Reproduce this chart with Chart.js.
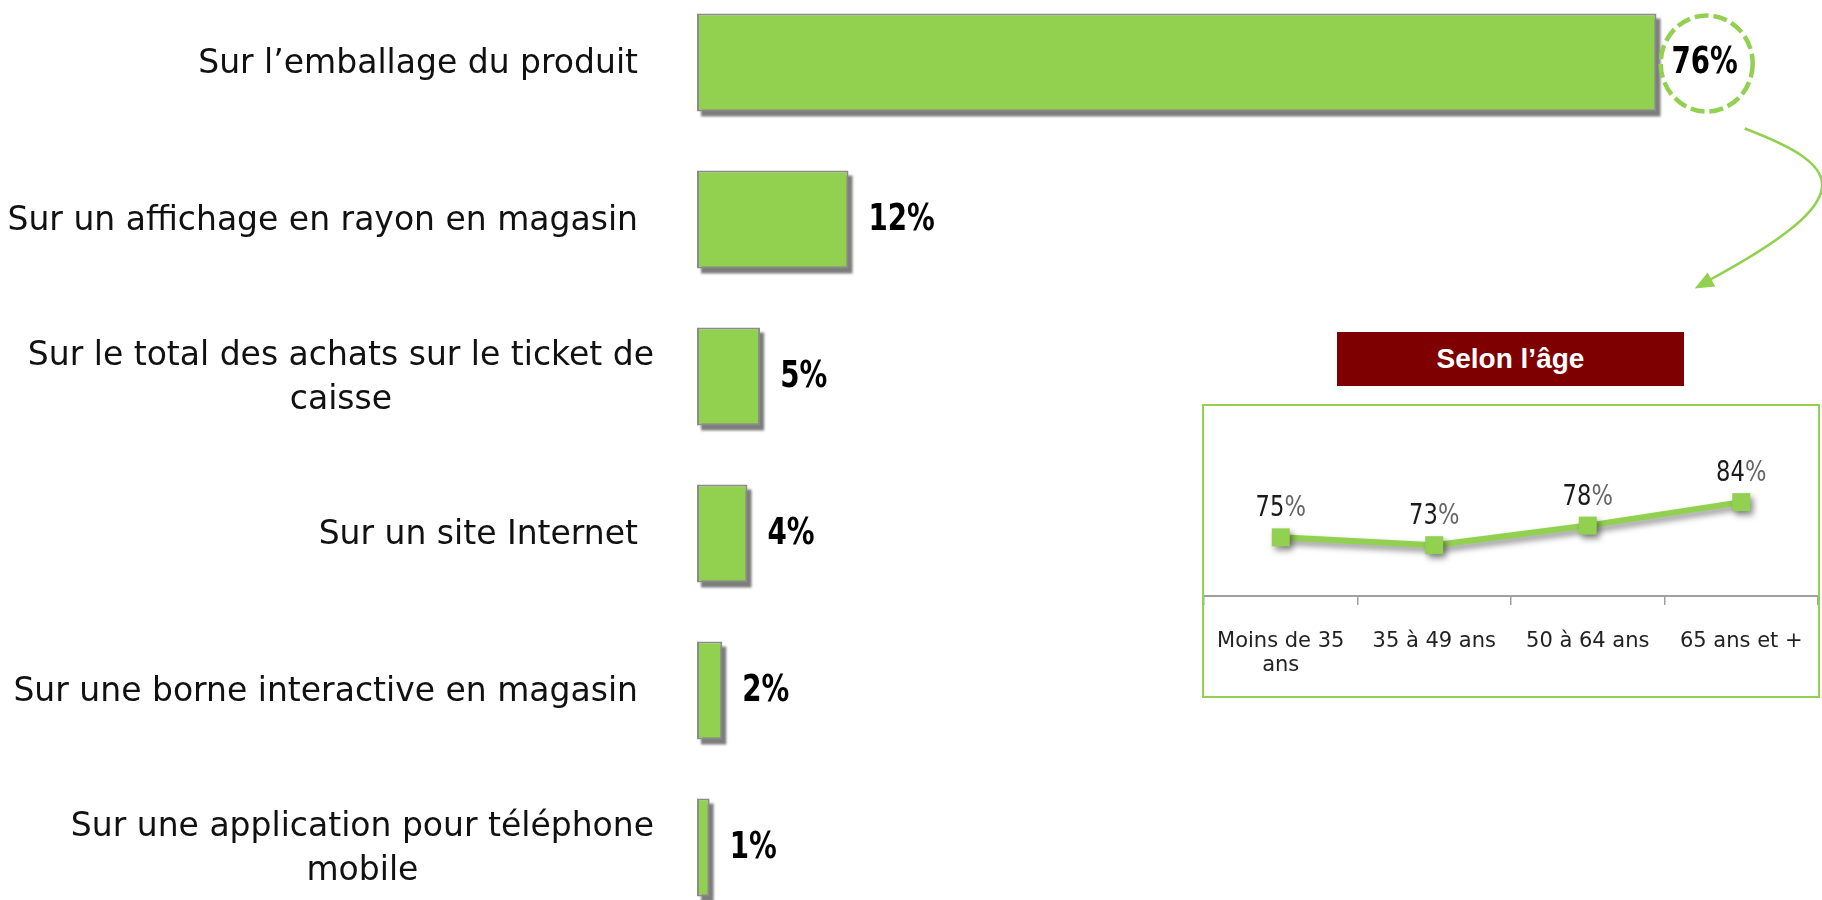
<!DOCTYPE html>
<html lang="fr">
<head>
<meta charset="utf-8">
<title>Où le consommateur lit l'information</title>
<script src="https://cdn.jsdelivr.net/npm/chart.js@4.4.1/dist/chart.umd.min.js"></script>
<style>
  html, body { margin: 0; padding: 0; background: #fff; overflow: hidden; }
  body { width: 1822px; height: 900px; position: relative; }
  #mainChart { position: absolute; left: 0; top: -16px; }
  #ageTitle {
    position: absolute; left: 1337px; top: 332px; width: 347px; height: 54px;
    background: #7f0000; color: #fff;
    font: bold 28px "Liberation Sans", Arial, sans-serif;
    display: flex; align-items: center; justify-content: center;
  }
  #ageBox { position: absolute; left: 1202px; top: 404px; width: 614px; height: 290px; border: 2px solid #92d050; }
</style>
</head>
<body>
<canvas id="mainChart" width="1822" height="942"></canvas>
<div id="ageTitle">Selon l’âge</div>
<div id="ageBox"><canvas id="ageChart" width="614" height="290"></canvas></div>

<script>
const Canaux = [
  ["Sur l’emballage du produit"],
  ["Sur un affichage en rayon en magasin"],
  ["Sur le total des achats sur le ticket de", "caisse"],
  ["Sur un site Internet"],
  ["Sur une borne interactive en magasin"],
  ["Sur une application pour téléphone", "mobile"]
];
const Parts = [76, 12, 5, 4, 2, 1];

const Ages = [["Moins de 35", "ans"], "35 à 49 ans", "50 à 64 ans", "65 ans et +"];
const PartsAge = [75, 73, 78, 84];

const GREEN = "#92D050";
const SANS = "'DejaVu Sans', sans-serif";

// no narrow font installed: squeeze the text horizontally
function narrowText(ctx, txt, x, y, sx) {
  ctx.save();
  ctx.translate(x, y);
  ctx.scale(sx, 1);
  ctx.fillText(txt, 0, 0);
  ctx.restore();
  return ctx.measureText(txt).width * sx;
}

// shadows, value labels, category labels, circled 76% + arrow
const barDecor = {
  id: "barDecor",
  beforeDatasetsDraw(chart) {
    const ctx = chart.ctx;
    ctx.save();
    ctx.fillStyle = "rgba(110,110,110,0.9)";
    ctx.filter = "blur(1.2px)";
    chart.getDatasetMeta(0).data.forEach((bar) => {
      const { x, y, base, height } = bar.getProps(["x", "y", "base", "height"], true);
      ctx.fillRect(base + 4, y - height / 2 + 5, x - base, height);
    });
    ctx.restore();
  },
  afterDatasetsDraw(chart) {
    const ctx = chart.ctx;
    const yScale = chart.scales.y;
    ctx.save();

    // labels on the left
    ctx.fillStyle = "#111";
    ctx.font = "33px " + SANS;
    ctx.textBaseline = "middle";
    Canaux.forEach((lines, i) => {
      const cy = yScale.getPixelForValue(i) + 2;
      const lh = 44;
      const top = cy - (lines.length - 1) * lh / 2;
      if (lines.length === 1) {
        ctx.textAlign = "right";
        ctx.fillText(lines[0], 638, cy);
      } else {
        const w = Math.max(...lines.map((l) => ctx.measureText(l).width));
        ctx.textAlign = "center";
        lines.forEach((l, k) => ctx.fillText(l, 654 - w / 2, top + k * lh));
      }
    });

    // values
    ctx.font = "bold 37px " + SANS;
    ctx.textAlign = "left";
    ctx.fillStyle = "#000";
    let circle = null;
    chart.getDatasetMeta(0).data.forEach((bar, i) => {
      const { x, y } = bar.getProps(["x", "y"], true);
      const lx = x + (i === 0 ? 15 : 20);
      const w = narrowText(ctx, Parts[i] + "%", lx, y + 1, 0.75);
      if (i === 0) circle = { cx: lx + w / 2, cy: y };
    });

    // dashed circle round the first value
    const { cx, cy } = circle;
    ctx.strokeStyle = GREEN;
    ctx.lineWidth = 4.5;
    ctx.setLineDash([14, 5]);
    ctx.beginPath();
    ctx.ellipse(cx + 2, cy + 1, 46, 48, 0, 0, Math.PI * 2);
    ctx.stroke();

    // curved arrow towards the age panel
    ctx.setLineDash([]);
    ctx.lineWidth = 2.5;
    const p0 = [cx + 40, cy + 66], p1 = [cx + 137, cy + 103], p2 = [cx + 162, cy + 133], p3 = [cx - 10, cy + 226];
    ctx.beginPath();
    ctx.moveTo(...p0);
    ctx.bezierCurveTo(...p1, ...p2, p3[0] + 12, p3[1] - 7);
    ctx.stroke();
    const ang = Math.atan2(p3[1] - p2[1], p3[0] - p2[0]);
    ctx.fillStyle = GREEN;
    ctx.beginPath();
    ctx.moveTo(p3[0], p3[1]);
    ctx.lineTo(p3[0] - 19 * Math.cos(ang) + 8 * Math.sin(ang), p3[1] - 19 * Math.sin(ang) - 8 * Math.cos(ang));
    ctx.lineTo(p3[0] - 19 * Math.cos(ang) - 8 * Math.sin(ang), p3[1] - 19 * Math.sin(ang) + 8 * Math.cos(ang));
    ctx.closePath();
    ctx.fill();
    ctx.restore();
  }
};

new Chart(document.getElementById("mainChart"), {
  type: "bar",
  data: {
    labels: Canaux,
    datasets: [{
      data: Parts,
      backgroundColor: GREEN,
      borderColor: "#8a8a8a",
      borderWidth: 2,
      borderSkipped: false,
      categoryPercentage: 0.8,
      barPercentage: 0.78
    }]
  },
  options: {
    indexAxis: "y",
    responsive: false,
    animation: false,
    events: [],
    layout: { padding: { left: 697, right: 115, top: 0, bottom: 0 } },
    scales: {
      x: { display: false, min: 0, max: 80 },
      y: { display: false }
    },
    plugins: { legend: { display: false }, tooltip: { enabled: false } }
  },
  plugins: [barDecor]
});

// line chart: shadow under line and points + labels above
const ageDecor = {
  id: "ageDecor",
  beforeDatasetDraw(chart) {
    const ctx = chart.ctx;
    ctx.save();
    ctx.shadowColor = "rgba(0,0,0,0.45)";
    ctx.shadowBlur = 6;
    ctx.shadowOffsetX = 3;
    ctx.shadowOffsetY = 4;
  },
  afterDatasetDraw(chart) {
    chart.ctx.restore();
  },
  afterDatasetsDraw(chart) {
    const ctx = chart.ctx;
    ctx.save();
    ctx.font = "29px " + SANS;
    ctx.textBaseline = "alphabetic";
    ctx.textAlign = "left";
    const sx = 0.78;
    chart.getDatasetMeta(0).data.forEach((pt, i) => {
      const num = String(PartsAge[i]);
      const wn = ctx.measureText(num).width * sx, wp = ctx.measureText("%").width * sx;
      const left = pt.x - (wn + wp) / 2;
      ctx.fillStyle = "#1a1a1a";
      narrowText(ctx, num, left, pt.y - 21, sx);
      ctx.fillStyle = "#666";
      narrowText(ctx, "%", left + wn, pt.y - 21, sx);
    });
    ctx.restore();
  }
};

new Chart(document.getElementById("ageChart"), {
  type: "line",
  data: {
    labels: Ages,
    datasets: [{
      data: PartsAge,
      borderColor: GREEN,
      borderWidth: 6,
      pointStyle: "rect",
      pointRadius: 12.7,
      pointBackgroundColor: GREEN,
      pointBorderWidth: 0,
      tension: 0,
      clip: false
    }]
  },
  options: {
    responsive: false,
    animation: false,
    events: [],
    layout: { autoPadding: false, padding: { top: 14, left: 0, right: 0, bottom: 0 } },
    scales: {
      x: {
        offset: true,
        grid: { offset: true, drawOnChartArea: false, color: "#a0a0a0", lineWidth: 1.5, tickLength: 9 },
        border: { color: "#a0a0a0", width: 2 },
        ticks: {
          color: "#222",
          font: { family: SANS, size: 21, lineHeight: 1.17 },
          padding: 24,
          maxRotation: 0
        },
        afterFit: (s) => {
          s.height = 100;
          s.paddingLeft = 0;
          s.paddingRight = 0;
        }
      },
      y: { display: false, min: 60, max: 105 }
    },
    plugins: { legend: { display: false }, tooltip: { enabled: false } }
  },
  plugins: [ageDecor]
});
</script>
</body>
</html>
